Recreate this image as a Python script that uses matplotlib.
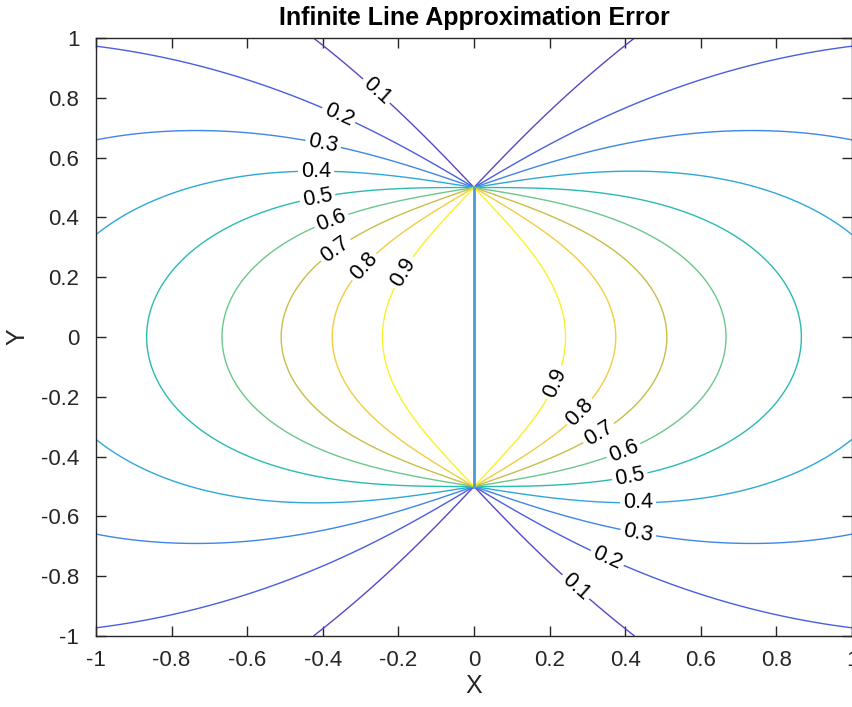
import numpy as np
import matplotlib
matplotlib.use("Agg")
import matplotlib.pyplot as plt

# ---- data ----
x_range = [-1.0, 1.0]
y_range = [-1.0, 1.0]
n_grid = 1201
half_length = 0.5            # finite line from y=-0.5 to y=0.5
levels = [0.1, 0.2, 0.3, 0.4, 0.5, 0.6, 0.7, 0.8, 0.9]
xticks = [-1, -0.8, -0.6, -0.4, -0.2, 0, 0.2, 0.4, 0.6, 0.8, 1]
yticks = [-1, -0.8, -0.6, -0.4, -0.2, 0, 0.2, 0.4, 0.6, 0.8, 1]
segment_x = [0, 0]
segment_y = [-0.5, 0.5]
# label placements (upper-left and lower-right)
label_pos_upper = [(-0.26, 0.82), (-0.36, 0.736), (-0.40, 0.64), (-0.418, 0.548),
                   (-0.413, 0.458), (-0.376, 0.385), (-0.37, 0.298), (-0.29, 0.234),
                   (-0.188, 0.217)]
label_pos_lower = [(0.217, -0.154), (0.275, -0.244), (0.333, -0.328), (0.397, -0.385),
                   (0.413, -0.472), (0.434, -0.555), (0.434, -0.659), (0.349, -0.749),
                   (0.267, -0.839)]

# field: ratio of finite-line field to infinite-line field
x = np.linspace(x_range[0], x_range[1], n_grid)
y = np.linspace(y_range[0], y_range[1], n_grid)
X, Y = np.meshgrid(x, y)
with np.errstate(invalid="ignore", divide="ignore"):
    r1 = np.sqrt(X**2 + (Y + half_length)**2)
    r2 = np.sqrt(X**2 + (Y - half_length)**2)
    Z = 0.5 * ((Y + half_length) / r1 - (Y - half_length) / r2)
Z = np.nan_to_num(Z, nan=1.0)

# parula-like colours, one per level
level_colors = ["#5548c8", "#4a5ee0", "#3f86e6", "#2fa8d6", "#2bbbb0",
                "#6cc88a", "#c6bf48", "#f2cd40", "#f8f22a"]

plt.rcParams["font.family"] = ["Liberation Sans", "DejaVu Sans"]

fig = plt.figure(figsize=(8.52, 7.07), dpi=100)
ax = fig.add_axes([96 / 852, 71 / 707, (852 - 96) / 852, (636 - 38) / 707])

cs = ax.contour(X, Y, Z, levels=levels, colors=level_colors, linewidths=1.0)
ax.plot(segment_x, segment_y, color="#4a9ad6", lw=2.0, zorder=3)

ax.clabel(cs, levels, inline=True, fontsize=15.5, colors="black", fmt="%g",
          manual=label_pos_upper + label_pos_lower, inline_spacing=3)

ax.set_xlim(x_range)
ax.set_ylim(y_range)
ax.set_xticks(xticks)
ax.set_yticks(yticks)
ax.set_xticklabels([f"{t:g}" for t in xticks])
ax.set_yticklabels([f"{t:g}" for t in yticks])
ax.tick_params(direction="in", length=7, width=1, labelsize=16, top=True, right=True,
               colors="#262626")
ax.tick_params(axis="y", pad=12)
ax.tick_params(axis="x", pad=10)
for s in ax.spines.values():
    s.set_color("#262626")
    s.set_linewidth(1.0)
ax.set_xlabel("X", fontsize=18, color="#262626", labelpad=2)
ax.set_ylabel("Y", fontsize=18, color="#262626", labelpad=8)
ax.set_title("Infinite Line Approximation Error", fontsize=18, fontweight="bold", pad=9)

fig.savefig("out.png", dpi=100)
